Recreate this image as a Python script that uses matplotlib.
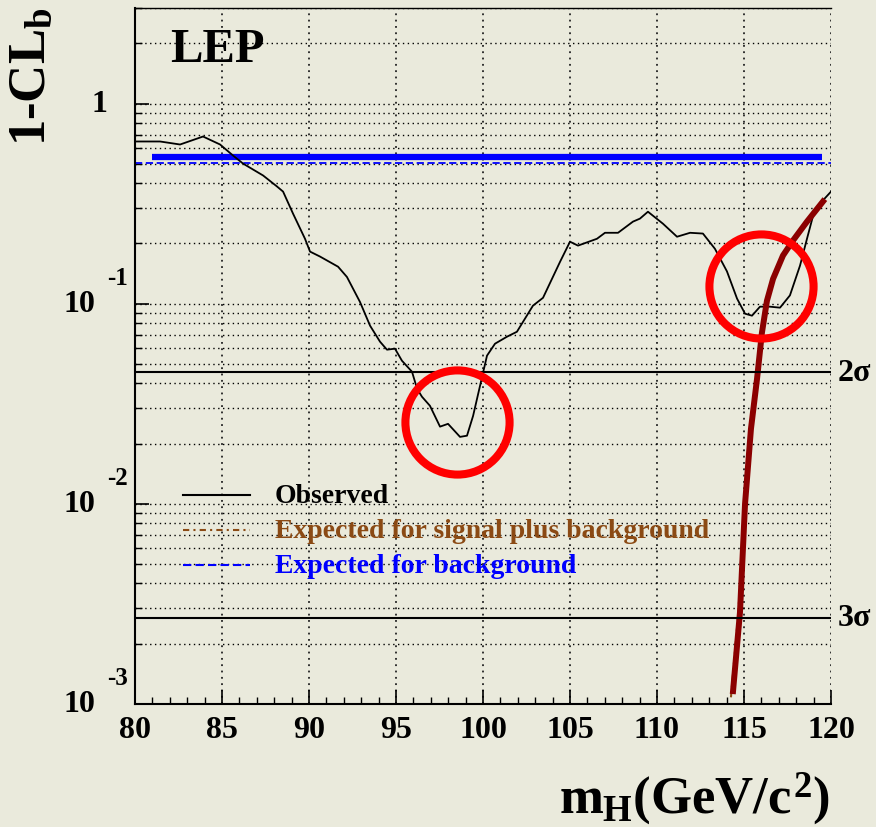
import matplotlib
matplotlib.use("Agg")
import matplotlib.pyplot as plt
import matplotlib.transforms as mtransforms
from matplotlib.ticker import MultipleLocator, LogLocator, NullFormatter

plt.rcParams['font.family'] = ['Liberation Serif', 'DejaVu Serif']
plt.rcParams['font.weight'] = 'bold'
plt.rcParams['mathtext.fontset'] = 'custom'
plt.rcParams['mathtext.rm'] = 'Liberation Serif:bold'
plt.rcParams['mathtext.bf'] = 'Liberation Serif:bold'
plt.rcParams['mathtext.it'] = 'Liberation Serif:bold'

# observed 1-CLb as a function of the test mass
obs_mass = [80.0, 81.44, 82.59, 83.91, 84.89, 85.63, 86.21, 87.36, 88.16, 88.51,
            89.08, 89.77, 90.06, 90.63, 91.67, 92.18, 92.93, 93.51, 94.08, 94.48,
            94.94, 95.34, 95.92, 96.21, 96.49, 96.95, 97.53, 97.99, 98.68, 99.08,
            99.43, 99.83, 100.23, 100.69, 101.38, 101.95, 102.87, 103.45, 104.43, 105.00,
            105.46, 106.55, 107.01, 107.76, 108.62, 109.02, 109.48, 110.34, 111.15, 111.90,
            112.64, 113.33, 114.02, 114.60, 115.06, 115.46, 115.92, 116.49, 117.07, 117.64,
            118.22, 118.62, 118.97, 119.48, 120.0]
obs_value = [0.646, 0.646, 0.624, 0.684, 0.624, 0.550, 0.501, 0.437, 0.385, 0.363,
             0.282, 0.211, 0.182, 0.172, 0.153, 0.136, 0.102, 0.0776, 0.0646, 0.0589,
             0.0596, 0.0519, 0.0457, 0.0376, 0.0343, 0.0309, 0.0243, 0.0251, 0.0216, 0.0219,
             0.0275, 0.0389, 0.0550, 0.0631, 0.0684, 0.0724, 0.0977, 0.107, 0.162, 0.204,
             0.195, 0.211, 0.226, 0.226, 0.257, 0.266, 0.288, 0.251, 0.216, 0.226,
             0.224, 0.188, 0.145, 0.106, 0.0891, 0.0871, 0.0966, 0.0966, 0.0955, 0.110,
             0.155, 0.211, 0.275, 0.324, 0.363]

# expected for signal plus background
sb_mass = [114.25, 114.68, 115.0, 115.36, 115.72, 116.03, 116.32, 116.67, 117.24,
           117.82, 118.62, 119.58]
sb_value = [0.00108, 0.00288, 0.0100, 0.0237, 0.0422, 0.0716, 0.1035, 0.133, 0.174,
            0.207, 0.257, 0.330]
sb115_mass = [114.37, 114.77, 115.06, 115.40, 115.75, 116.03, 116.32, 116.67, 117.24,
              117.82, 118.62, 119.54]
sb115_value = [0.00116, 0.00288, 0.0100, 0.0237, 0.0422, 0.0716, 0.1035, 0.133, 0.174,
               0.207, 0.257, 0.324]

# expected for background
bkg_mass = [80.0, 120.0]
bkg_value = [0.505, 0.505]
bkg_band_mass = [81.0, 119.5]
bkg_band_value = [0.539, 0.539]

# significance levels
sigma_labels = ['2σ', '3σ']
sigma_values = [0.0455, 0.0027]

# regions of interest
circle_mass = [98.5, 116.0]
circle_value = [0.0257, 0.123]

mass_ticks = [80, 85, 90, 95, 100, 105, 110, 115, 120]
decades = [1, 0.1, 0.01, 0.001]
decade_exp = ['', '-1', '-2', '-3']

bg = '#EAEADC'
brown = '#8B4A14'
dotted = (0, (1, 2.5))

fig = plt.figure(figsize=(8.76, 8.28), dpi=100, facecolor=bg)
ax = fig.add_axes([135 / 876, 123 / 828, 696 / 876, 696 / 828])
ax.set_facecolor(bg)
ax.set_yscale('log')
ax.set_xlim(80, 120)
ax.set_ylim(1e-3, 3.0)

ax.set_xticks(mass_ticks)
ax.xaxis.set_minor_locator(MultipleLocator(1))
ax.yaxis.set_major_locator(LogLocator(base=10))
ax.yaxis.set_minor_locator(LogLocator(base=10, subs=range(2, 10)))
ax.yaxis.set_major_formatter(NullFormatter())
ax.yaxis.set_minor_formatter(NullFormatter())

ax.grid(True, which='both', axis='y', color='black', linestyle=dotted, linewidth=1.0)
for m in mass_ticks[1:]:
    ax.plot([m, m], [1e-3, 3.0], color='#222222', linestyle=dotted, linewidth=1.3,
            zorder=1)

ax.tick_params(axis='both', which='major', direction='in', length=10, width=1.2,
               labelsize=23, pad=8)
ax.tick_params(axis='both', which='minor', direction='in', length=5, width=1.0)
ax.tick_params(axis='y', which='both', right=False)
ax.tick_params(axis='x', which='both', top=False)
for lab in ax.get_xticklabels():
    lab.set_fontweight('bold')

for side in ['left', 'bottom']:
    ax.spines[side].set_linewidth(1.5)
ax.spines['top'].set_linewidth(1.0)
ax.spines['right'].set_visible(False)

# curves
ax.plot(bkg_mass, bkg_value, color='blue', linewidth=1.3, linestyle=(0, (4, 2)))
ax.plot(bkg_band_mass, bkg_band_value, color='blue', linewidth=4.5, solid_capstyle='butt')
ax.plot(obs_mass, obs_value, color='black', linewidth=1.3)
ax.plot(sb_mass, sb_value, color=brown, linewidth=1.5, linestyle=(0, (3, 2, 1, 2)))
ax.plot(sb115_mass, sb115_value, color='#8B0000', linewidth=4.3)

for val, lab in zip(sigma_values, sigma_labels):
    ax.axhline(val, color='black', linewidth=1.5)
    ax.text(1.01, val, lab, transform=ax.get_yaxis_transform(), fontsize=23,
            fontweight='bold', va='center', ha='left')

ax.plot(circle_mass, circle_value, linestyle='none', marker='o', markersize=75,
        markerfacecolor='none', markeredgecolor='#FF0000', markeredgewidth=5.8)

# y tick labels in 10 and exponent form
ytrans = ax.get_yaxis_transform()
sup_trans = mtransforms.offset_copy(ytrans, fig=fig, y=26, units='dots')
for val, ex in zip(decades, decade_exp):
    if ex == '':
        ax.text(-0.04, val, '1', transform=ytrans, fontsize=23, fontweight='bold',
                ha='right', va='center')
    else:
        ax.text(-0.057, val, '10', transform=ytrans, fontsize=23, fontweight='bold',
                ha='right', va='center')
        ax.text(-0.04, val, ex, transform=sup_trans, fontsize=18, fontweight='bold',
                ha='left', va='center')

ax.text(0.05, 0.924, 'LEP', transform=ax.transAxes, fontsize=35, fontweight='bold',
        ha='left', va='baseline')

# legend
leg_items = [('Observed', 'black', '-'),
             ('Expected for signal plus background', brown, (0, (3, 2, 1, 2))),
             ('Expected for background', 'blue', (0, (4, 2)))]
for i, (txt, col, ls) in enumerate(leg_items):
    y = 0.300 - i * 0.0505
    ax.plot([0.069, 0.165], [y, y], transform=ax.transAxes, color=col,
            linestyle=ls, linewidth=1.5)
    ax.text(0.201, y, txt, transform=ax.transAxes, fontsize=20, fontweight='bold',
            color=col, ha='left', va='center')

fig.text(32 / 876, 1 - 8 / 828, '$1$-$CL_b$', rotation=90, fontsize=38,
         ha='center', va='top')
fig.text(830 / 876, 15 / 828, '$m_H(GeV/c^2)$', fontsize=38, ha='right',
         va='baseline')

fig.savefig('out.png', dpi=100, facecolor=bg)
